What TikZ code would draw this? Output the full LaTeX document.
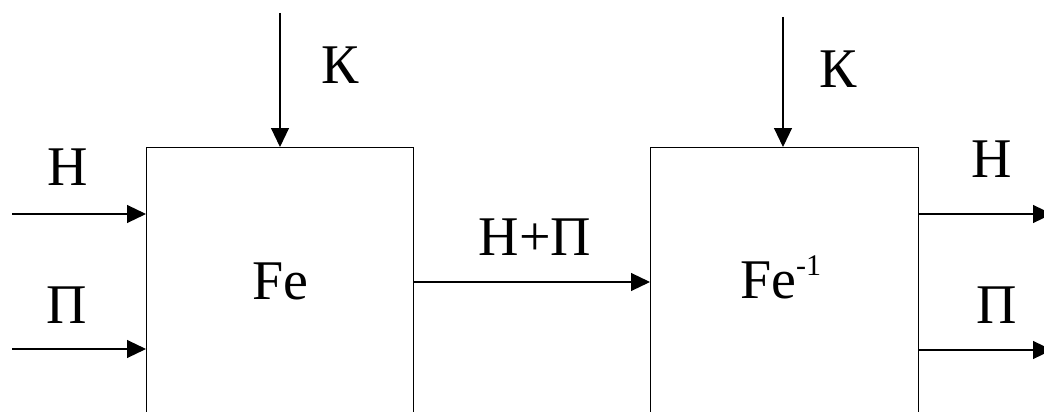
\documentclass[tikz,border=0pt]{standalone}
\usepackage{fontspec}
\setmainfont{Liberation Serif}
\usetikzlibrary{arrows.meta}
\begin{document}
\begin{tikzpicture}[x=1pt,y=-1pt,
  line/.style={line width=1.1pt, draw=black},
  flow/.style={line, -{Triangle[length=19pt,width=18pt]}},
  block/.style={line, rectangle, inner sep=0pt, anchor=north west,
    minimum width=267pt, minimum height=300pt},
  lbl/.style={font=\rmfamily\fontsize{56}{60}\selectfont, inner sep=0pt, anchor=base}]
\useasboundingbox (0,0) rectangle (1044,412);
\clip (0,0) rectangle (1044,412);

% the two blocks (their lower edges run below the frame)
\node[block] (fe) at (146,147) {};
\node[block, minimum width=268pt] (fei) at (650,147) {};

% free ends of the signal lines
\coordinate (inH) at (12,214);
\coordinate (inP) at (12,349);
\coordinate (kA) at (280,13);
\coordinate (kB) at (783,17);
\coordinate (mid) at (0,282);
\coordinate (outH) at (1052,214);
\coordinate (outP) at (1052,350);

% signal lines
\draw[flow] (inH) -- (fe.west |- inH);
\draw[flow] (inP) -- (fe.west |- inP);
\draw[flow] (kA) -- (kA |- fe.north);
\draw[flow] (kB) -- (kB |- fei.north);
\draw[flow] (fe.east |- mid) -- (fei.west |- mid);
\draw[flow] (fei.east |- outH) -- (outH);
\draw[flow] (fei.east |- outP) -- (outP);

% labels
\node[lbl] (lHin) at (67.5,185) {Н};
\node[lbl] (lPin) at (67,323) {П};
\node[lbl] (lKa) at (340,84) {К};
\node[lbl] (lKb) at (838,87) {К};
\node[lbl] (lMid) at (535,255) {Н+П};
\node[lbl] (lHout) at (992,177) {Н};
\node[lbl] (lPout) at (997,323) {П};
\node[lbl] (tFe) at (280,299) {Fe};
\node[lbl, anchor=base west] (tFei) at (740,298)
  {Fe\raisebox{23pt}{\fontsize{30}{30}\selectfont -1}};
\end{tikzpicture}
\end{document}
